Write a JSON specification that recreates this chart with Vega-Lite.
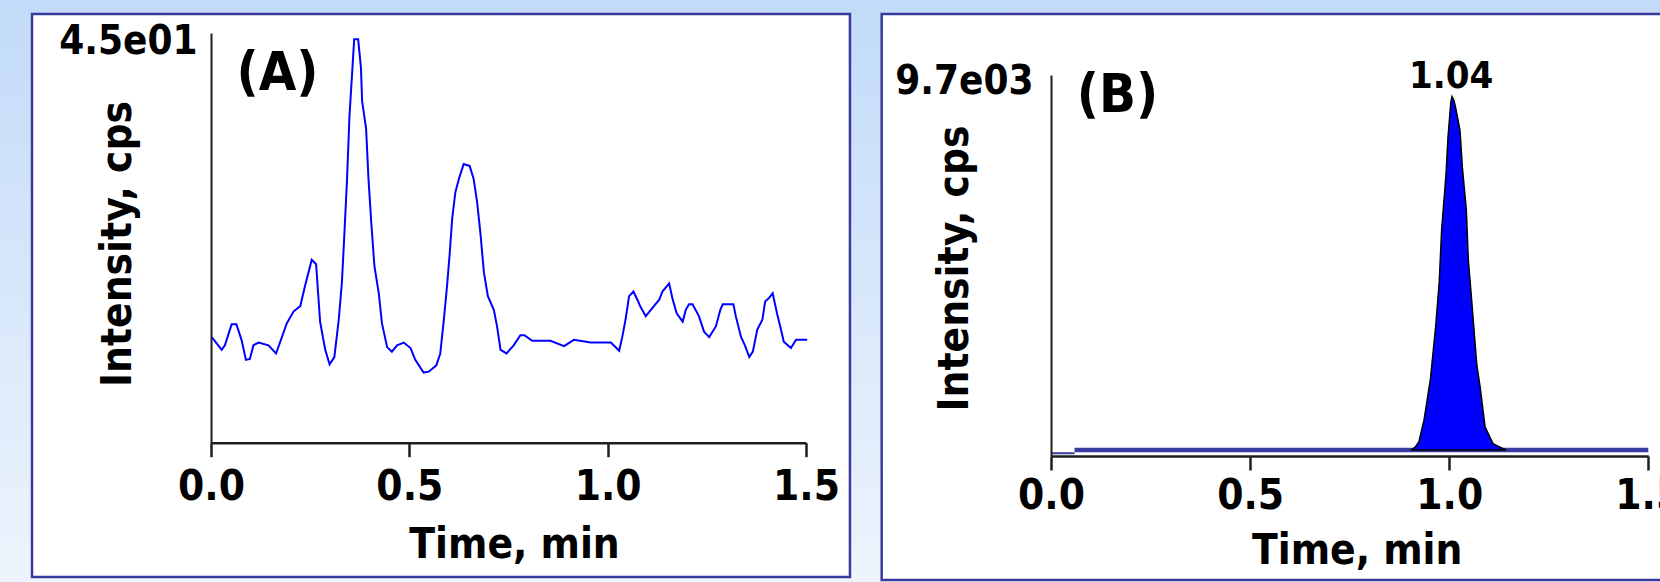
{
  "$schema": "https://vega.github.io/schema/vega-lite/v6.json",
  "width": 1660,
  "height": 582,
  "padding": 0,
  "autosize": {"type": "none"},
  "background": "#d9e8fa",
  "config": {
    "view": {
      "stroke": null,
      "fill": {"gradient": "linear", "x1": 0, "y1": 0, "x2": 0, "y2": 1,
        "stops": [{"offset": 0, "color": "#c2dbf8"}, {"offset": 1, "color": "#edf4fd"}]}
    },
    "axis": {
      "grid": false,
      "labelFont": "DejaVu Sans Condensed",
      "titleFont": "DejaVu Sans Condensed",
      "labelFontWeight": "bold",
      "titleFontWeight": "bold",
      "labelColor": "#000000",
      "titleColor": "#000000",
      "domainColor": "#1e1e1e",
      "tickColor": "#1e1e1e",
      "labelFlush": false,
      "labelOverlap": false
    },
    "text": {"font": "DejaVu Sans Condensed", "fontWeight": "bold", "color": "#000000"}
  },
  "datasets": {
    "one": [{}],
    "traceA": [
      {"t": 0.002, "i": 11.6}, {"t": 0.027, "i": 10.2}, {"t": 0.035, "i": 10.7}, {"t": 0.052, "i": 13.0},
      {"t": 0.064, "i": 13.0}, {"t": 0.077, "i": 11.3}, {"t": 0.088, "i": 9.1}, {"t": 0.098, "i": 9.2},
      {"t": 0.107, "i": 10.7}, {"t": 0.12, "i": 11.0}, {"t": 0.145, "i": 10.7}, {"t": 0.164, "i": 9.8},
      {"t": 0.173, "i": 10.9}, {"t": 0.191, "i": 13.1}, {"t": 0.208, "i": 14.4}, {"t": 0.225, "i": 15.0},
      {"t": 0.237, "i": 17.2}, {"t": 0.254, "i": 20.1}, {"t": 0.265, "i": 19.6}, {"t": 0.275, "i": 13.3},
      {"t": 0.288, "i": 10.2}, {"t": 0.299, "i": 8.6}, {"t": 0.311, "i": 9.4}, {"t": 0.322, "i": 13.5},
      {"t": 0.33, "i": 17.6}, {"t": 0.336, "i": 22.7}, {"t": 0.343, "i": 29.0}, {"t": 0.349, "i": 35.8},
      {"t": 0.361, "i": 44.3}, {"t": 0.371, "i": 44.3}, {"t": 0.378, "i": 41.2}, {"t": 0.381, "i": 37.5},
      {"t": 0.391, "i": 34.5}, {"t": 0.397, "i": 29.0}, {"t": 0.404, "i": 24.2}, {"t": 0.412, "i": 19.4},
      {"t": 0.423, "i": 16.4}, {"t": 0.431, "i": 13.1}, {"t": 0.444, "i": 10.5}, {"t": 0.456, "i": 10.0},
      {"t": 0.469, "i": 10.7}, {"t": 0.486, "i": 11.0}, {"t": 0.503, "i": 10.4}, {"t": 0.515, "i": 9.1},
      {"t": 0.536, "i": 7.7}, {"t": 0.549, "i": 7.8}, {"t": 0.568, "i": 8.5}, {"t": 0.578, "i": 9.8},
      {"t": 0.587, "i": 13.5}, {"t": 0.595, "i": 17.2}, {"t": 0.602, "i": 20.9}, {"t": 0.608, "i": 24.6},
      {"t": 0.616, "i": 27.5}, {"t": 0.625, "i": 29.0}, {"t": 0.637, "i": 30.6}, {"t": 0.652, "i": 30.4},
      {"t": 0.662, "i": 29.0}, {"t": 0.671, "i": 26.4}, {"t": 0.679, "i": 23.1}, {"t": 0.688, "i": 18.7},
      {"t": 0.698, "i": 16.1}, {"t": 0.713, "i": 14.6}, {"t": 0.721, "i": 12.8}, {"t": 0.73, "i": 10.2},
      {"t": 0.745, "i": 9.8}, {"t": 0.763, "i": 10.7}, {"t": 0.78, "i": 11.8}, {"t": 0.79, "i": 11.8},
      {"t": 0.81, "i": 11.2}, {"t": 0.856, "i": 11.2}, {"t": 0.89, "i": 10.6}, {"t": 0.915, "i": 11.3},
      {"t": 0.957, "i": 11.0}, {"t": 1.008, "i": 11.0}, {"t": 1.029, "i": 10.1}, {"t": 1.037, "i": 11.65},
      {"t": 1.045, "i": 13.5}, {"t": 1.054, "i": 16.1}, {"t": 1.065, "i": 16.6}, {"t": 1.075, "i": 15.7},
      {"t": 1.083, "i": 14.9}, {"t": 1.096, "i": 13.9}, {"t": 1.113, "i": 14.8}, {"t": 1.13, "i": 15.7},
      {"t": 1.138, "i": 16.6}, {"t": 1.155, "i": 17.5}, {"t": 1.163, "i": 15.9}, {"t": 1.174, "i": 14.2},
      {"t": 1.189, "i": 13.3}, {"t": 1.197, "i": 14.6}, {"t": 1.205, "i": 15.2}, {"t": 1.214, "i": 15.2},
      {"t": 1.23, "i": 13.9}, {"t": 1.243, "i": 12.2}, {"t": 1.256, "i": 11.6}, {"t": 1.273, "i": 12.8},
      {"t": 1.284, "i": 14.6}, {"t": 1.29, "i": 15.2}, {"t": 1.317, "i": 15.2}, {"t": 1.323, "i": 13.9},
      {"t": 1.336, "i": 11.65}, {"t": 1.346, "i": 10.7}, {"t": 1.357, "i": 9.4}, {"t": 1.366, "i": 10.0},
      {"t": 1.377, "i": 12.4}, {"t": 1.39, "i": 13.5}, {"t": 1.397, "i": 15.5}, {"t": 1.407, "i": 15.9},
      {"t": 1.416, "i": 16.4}, {"t": 1.427, "i": 14.2}, {"t": 1.437, "i": 12.4}, {"t": 1.444, "i": 11.1},
      {"t": 1.462, "i": 10.4}, {"t": 1.475, "i": 11.3}, {"t": 1.503, "i": 11.3}
    ],
    "peakB": [
      {"t": 0.905, "i": 153}, {"t": 0.915, "i": 230}, {"t": 0.924, "i": 363}, {"t": 0.937, "i": 928},
      {"t": 0.953, "i": 1970}, {"t": 0.966, "i": 3294}, {"t": 0.975, "i": 4429}, {"t": 0.981, "i": 5752},
      {"t": 0.992, "i": 7167}, {"t": 0.997, "i": 8114}, {"t": 1.004, "i": 9000}, {"t": 1.007, "i": 9152},
      {"t": 1.012, "i": 9050}, {"t": 1.017, "i": 8821}, {"t": 1.027, "i": 8299}, {"t": 1.033, "i": 7357},
      {"t": 1.043, "i": 6271}, {"t": 1.048, "i": 4994}, {"t": 1.058, "i": 3768}, {"t": 1.069, "i": 2347},
      {"t": 1.078, "i": 1733}, {"t": 1.09, "i": 740}, {"t": 1.11, "i": 316}, {"t": 1.142, "i": 153}
    ],
    "baseB": [{"t": 0.059, "i": 150}, {"t": 1.5, "i": 150}],
    "startB": [{"t": 0.0, "i": 70}, {"t": 0.059, "i": 70}]
  },
  "layer": [
    {
      "layer": [
        {
          "data": {"name": "one"},
          "mark": {"type": "rect", "fill": "#ffffff", "stroke": "#3a3a9c", "strokeWidth": 2.5},
          "encoding": {
            "x": {"datum": -0.4512, "type": "quantitative",
              "scale": {"domain": [0, 1.5], "range": [211, 806], "nice": false, "zero": false},
              "axis": {"zindex": 2, "orient": "bottom", "offset": -139.3, "values": [0, 0.5, 1, 1.5], "format": ".1f",
                "domainWidth": 2.5, "tickSize": 14, "tickWidth": 2.5, "labelFontSize": 42,
                "labelBaseline": "alphabetic", "labelPadding": 42.3,
                "title": "Time, min", "titleFontSize": 42, "titleX": 514, "titleY": 114.3,
                "titleBaseline": "alphabetic", "titleAlign": "center"}},
            "x2": {"datum": 1.6108},
            "y": {"datum": 47.09, "type": "quantitative",
              "scale": {"domain": [0, 45], "range": [442.7, 33], "nice": false, "zero": false},
              "axis": {"zindex": 2, "orient": "left", "offset": -211, "values": [45], "labelExpr": "'4.5e01'",
                "ticks": false, "tickSize": 0, "domainWidth": 2, "labelFontSize": 40,
                "labelPadding": 14, "labelBaseline": "alphabetic", "labelOffset": 20.5, "labelAlign": "right",
                "title": "Intensity, cps", "titleFontSize": 42, "titleAngle": 270, "titleX": -81, "titleY": 243.5,
                "titleBaseline": "alphabetic", "titleAlign": "center"}},
            "y2": {"datum": -14.75}
          }
        },
        {
          "data": {"name": "traceA"},
          "mark": {"type": "line", "color": "#0000ff", "strokeWidth": 2},
          "encoding": {
            "x": {"field": "t", "type": "quantitative"},
            "y": {"field": "i", "type": "quantitative"}
          }
        },
        {
          "data": {"name": "one"},
          "mark": {"type": "text", "fontSize": 54, "align": "center", "baseline": "alphabetic"},
          "encoding": {
            "x": {"datum": 0.1676},
            "y": {"datum": 38.74},
            "text": {"value": "(A)"}
          }
        }
      ]
    },
    {
      "layer": [
        {
          "data": {"name": "one"},
          "mark": {"type": "rect", "fill": "#ffffff", "stroke": "#3a3a9c", "strokeWidth": 2.5},
          "encoding": {
            "x": {"datum": -0.4252, "type": "quantitative",
              "scale": {"domain": [0, 1.5], "range": [1051, 1648.3], "nice": false, "zero": false},
              "axis": {"zindex": 2, "orient": "bottom", "offset": -126, "values": [0, 0.5, 1, 1.5], "format": ".1f",
                "domainWidth": 2.5, "tickSize": 14, "tickWidth": 2.5, "labelFontSize": 42,
                "labelBaseline": "alphabetic", "labelPadding": 38,
                "title": "Time, min", "titleFontSize": 42, "titleX": 1356.7, "titleY": 107.3,
                "titleBaseline": "alphabetic", "titleAlign": "center"}},
            "x2": {"datum": 1.8},
            "y": {"datum": 11253, "type": "quantitative",
              "scale": {"domain": [0, 9700], "range": [456, 75], "nice": false, "zero": false},
              "axis": {"zindex": 2, "orient": "left", "offset": -1051, "values": [9700], "labelExpr": "'9.7e03'",
                "ticks": false, "tickSize": 0, "domainWidth": 2, "labelFontSize": 40,
                "labelPadding": 18, "labelBaseline": "alphabetic", "labelOffset": 18, "labelAlign": "right",
                "title": "Intensity, cps", "titleFontSize": 42, "titleAngle": 270, "titleX": -84, "titleY": 268,
                "titleBaseline": "alphabetic", "titleAlign": "center"}},
            "y2": {"datum": -3157}
          }
        },
        {
          "data": {"name": "startB"},
          "mark": {"type": "line", "color": "#3a3aa5", "strokeWidth": 2},
          "encoding": {
            "x": {"field": "t", "type": "quantitative"},
            "y": {"field": "i", "type": "quantitative"}
          }
        },
        {
          "data": {"name": "baseB"},
          "mark": {"type": "line", "color": "#3a3aa5", "strokeWidth": 4.5},
          "encoding": {
            "x": {"field": "t", "type": "quantitative"},
            "y": {"field": "i", "type": "quantitative"}
          }
        },
        {
          "data": {"name": "peakB"},
          "mark": {"type": "area", "fill": "#0000ff", "fillOpacity": 1, "stroke": "#000000", "strokeWidth": 1.5},
          "encoding": {
            "x": {"field": "t", "type": "quantitative"},
            "y": {"field": "i", "type": "quantitative"},
            "y2": {"datum": 150}
          }
        },
        {
          "data": {"name": "one"},
          "mark": {"type": "text", "fontSize": 38, "align": "center", "baseline": "alphabetic"},
          "encoding": {
            "x": {"datum": 1.005},
            "y": {"datum": 9361},
            "text": {"value": "1.04"}
          }
        },
        {
          "data": {"name": "one"},
          "mark": {"type": "text", "fontSize": 54, "align": "center", "baseline": "alphabetic"},
          "encoding": {
            "x": {"datum": 0.167},
            "y": {"datum": 8758},
            "text": {"value": "(B)"}
          }
        }
      ]
    }
  ],
  "resolve": {
    "scale": {"x": "independent", "y": "independent"},
    "axis": {"x": "independent", "y": "independent"}
  }
}
